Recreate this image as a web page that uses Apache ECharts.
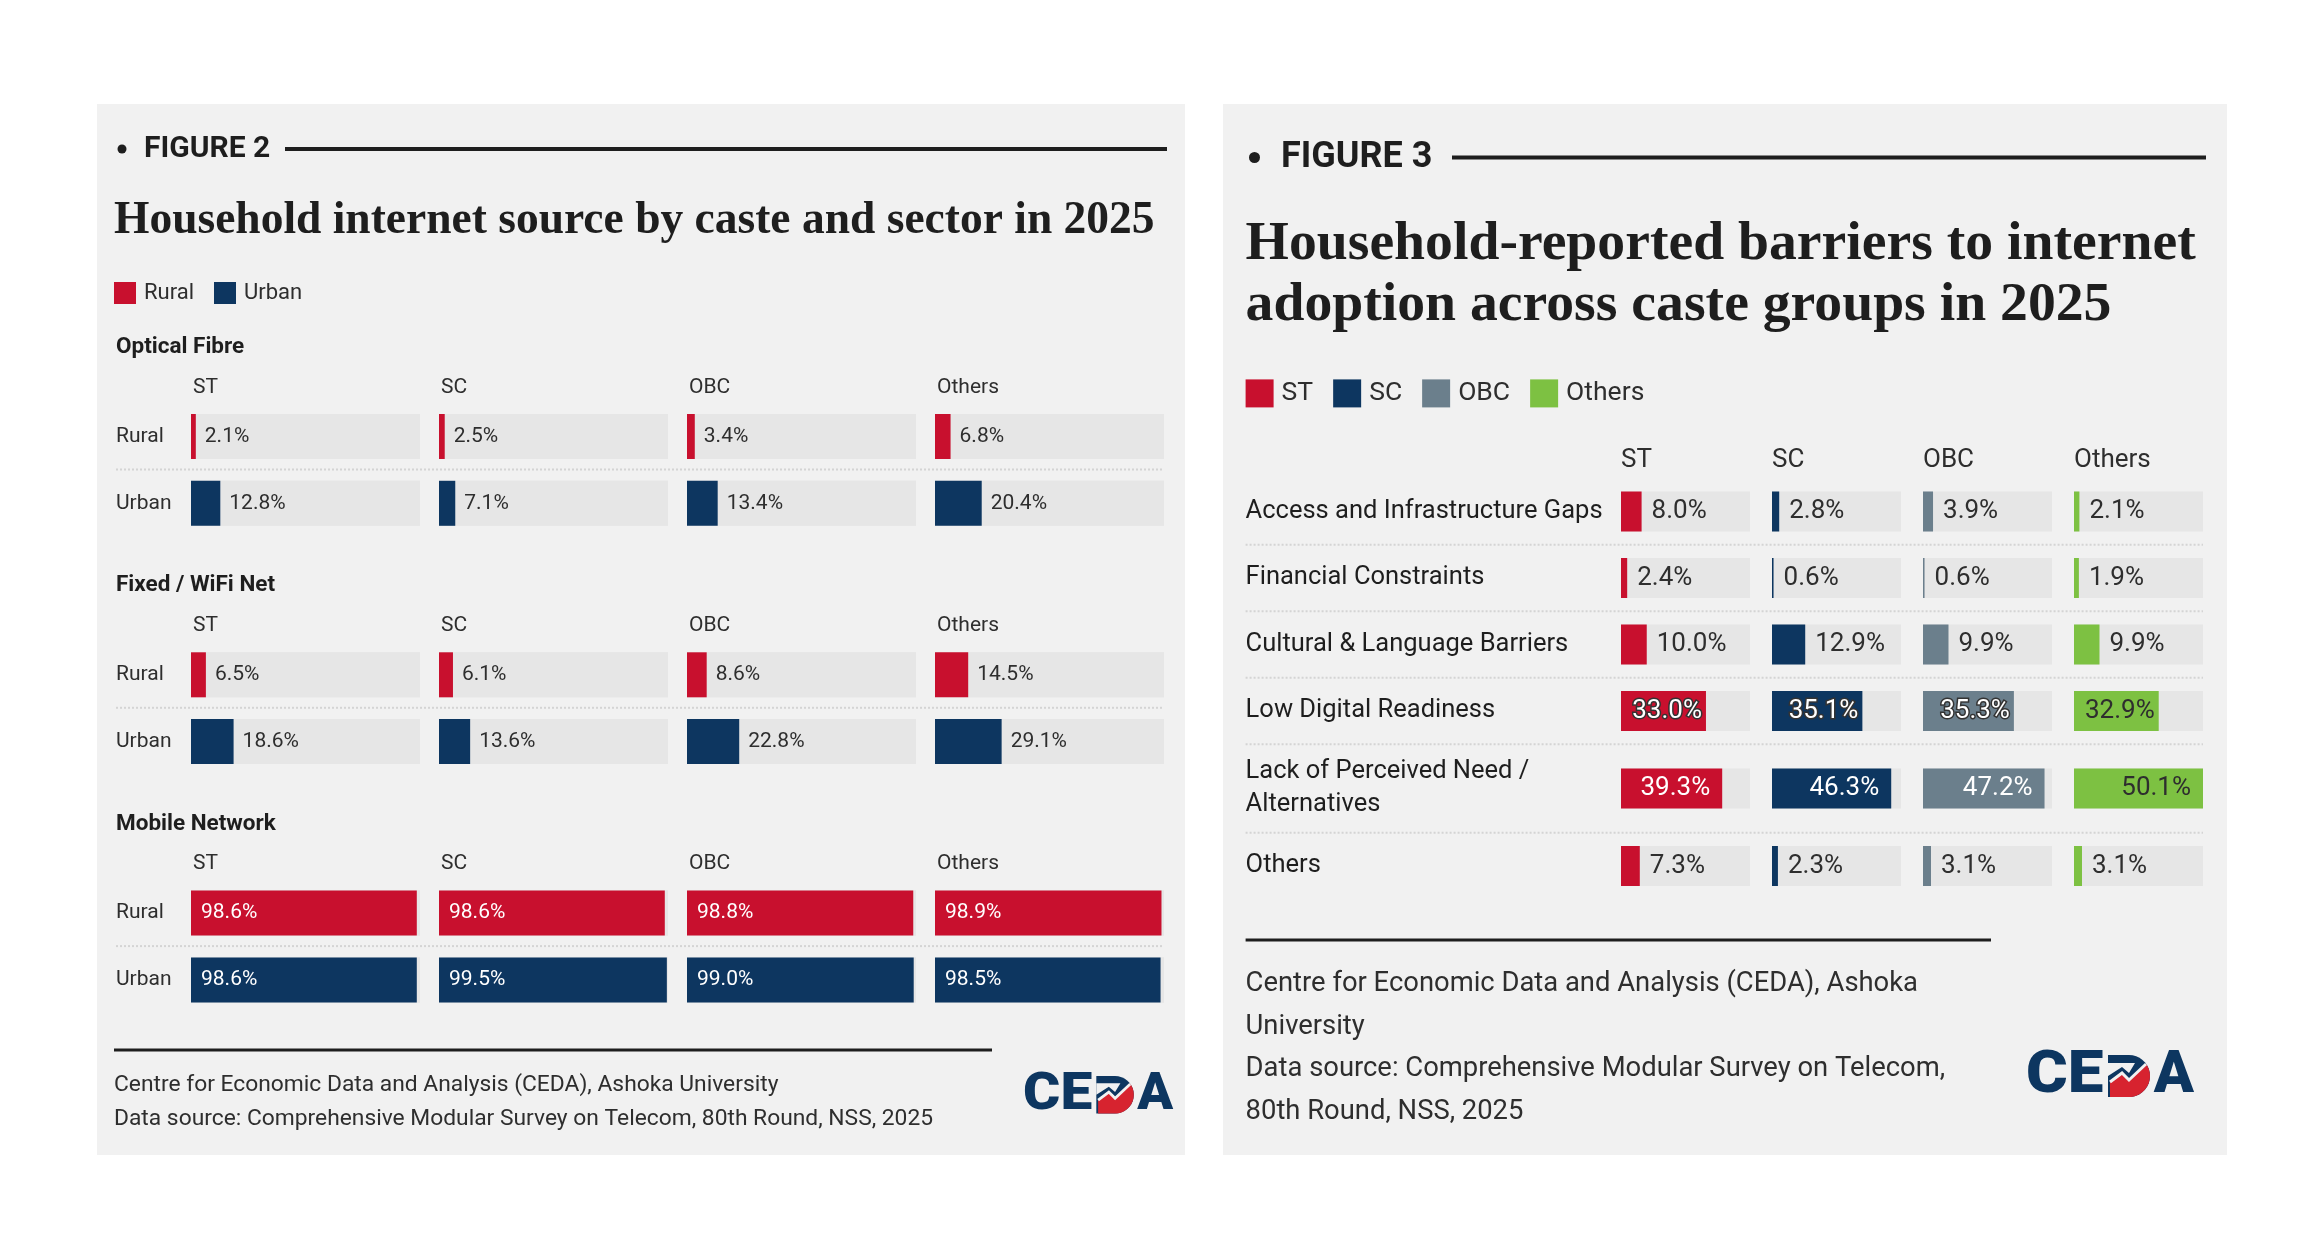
<!DOCTYPE html>
<html><head><meta charset="utf-8">
<script src="https://cdn.jsdelivr.net/npm/echarts@6/dist/echarts.min.js"></script>
<style>html,body{margin:0;padding:0;background:#fff;}#c{width:2316px;height:1254px;}</style>
</head><body><div id="c"></div>
<script>
// ---------------- DATA ----------------
const castes = ['ST', 'SC', 'OBC', 'Others'];
const sectors = ['Rural', 'Urban'];
const sourceSections = ['Optical Fibre', 'Fixed / WiFi Net', 'Mobile Network'];
const opticalRural = [2.1, 2.5, 3.4, 6.8];
const opticalUrban = [12.8, 7.1, 13.4, 20.4];
const fixedRural = [6.5, 6.1, 8.6, 14.5];
const fixedUrban = [18.6, 13.6, 22.8, 29.1];
const mobileRural = [98.6, 98.6, 98.8, 98.9];
const mobileUrban = [98.6, 99.5, 99.0, 98.5];

const barriers = ['Access and Infrastructure Gaps', 'Financial Constraints', 'Cultural & Language Barriers',
  'Low Digital Readiness', 'Lack of Perceived Need / Alternatives', 'Others'];
const barrierST = [8.0, 2.4, 10.0, 33.0, 39.3, 7.3];
const barrierSC = [2.8, 0.6, 12.9, 35.1, 46.3, 2.3];
const barrierOBC = [3.9, 0.6, 9.9, 35.3, 47.2, 3.1];
const barrierOthers = [2.1, 1.9, 9.9, 32.9, 50.1, 3.1];

const fig2Label = 'FIGURE 2';
const fig2Title = 'Household internet source by caste and sector in 2025';
const fig2Footer = ['Centre for Economic Data and Analysis (CEDA), Ashoka University',
  'Data source: Comprehensive Modular Survey on Telecom, 80th Round, NSS, 2025'];
const fig3Label = 'FIGURE 3';
const fig3Title = ['Household-reported barriers to internet', 'adoption across caste groups in 2025'];
const fig3Footer = ['Centre for Economic Data and Analysis (CEDA), Ashoka', 'University',
  'Data source: Comprehensive Modular Survey on Telecom,', '80th Round, NSS, 2025'];

// ---------------- STYLE ----------------
const SANS = 'Roboto, "Noto Sans", sans-serif';
const SERIF = '"Liberation Serif", serif';
const RED = '#c8102e', NAVY = '#0d3660', GREY = '#6b7f8c', GREEN = '#7dc142';
const TRACK = '#e6e6e6', PANEL = '#f1f1f1', INK = '#1e1e1e', TXT = '#2e2e2e';
const sectorColors = { Rural: RED, Urban: NAVY };
const casteColors = [RED, NAVY, GREY, GREEN];

const grids = [], xAxes = [], yAxes = [], series = [], graphics = [];
function txt(x, y, text, font, extra) {
  graphics.push({ type: 'text', x: x, y: y, silent: true,
    style: Object.assign({ text: text, font: font, fill: TXT, align: 'left', verticalAlign: 'middle',
      textAlign: 'left', textVerticalAlign: 'middle' }, extra || {}) });
}
function hline(x1, x2, y, w, color, dash) {
  graphics.push({ type: 'line', silent: true, shape: { x1: x1, y1: y, x2: x2, y2: y },
    style: { stroke: color, lineWidth: w, lineDash: dash || null } });
}
function logo(x, y, h) {
  const s = h / 42;
  const arc = [];
  for (let a = -90; a <= 90; a += 10) { const t = a * Math.PI / 180; arc.push([21 + 21 * Math.cos(t), 21 + 21 * Math.sin(t)]); }
  const dNavy = [[0, 0]].concat(arc).concat([[0, 42]]);
  const redArc = [];
  for (let a = -36; a <= 90; a += 8) { const t = a * Math.PI / 180; redArc.push([21 + 21 * Math.cos(t), 21 + 21 * Math.sin(t)]); }
  const zig = [[2, 27], [14, 18], [21, 25], [38, 9]];
  const dRed = [[2, 27], [14, 18], [21, 25], [38, 9]].concat(redArc).concat([[2, 42]]);
  const counter = [[0, 8], [27, 8], [21, 18], [14, 12], [0, 21]];
  graphics.push({ type: 'group', x: x, y: y, scaleX: s, scaleY: s, silent: true, children: [
    { type: 'text', x: -1, y: 22, scaleX: 1.08, style: { text: 'CE', font: '900 59px ' + SANS, fill: NAVY,
      align: 'left', verticalAlign: 'middle', textAlign: 'left', textVerticalAlign: 'middle' } },
    { type: 'group', x: 81, y: 0, children: [
      { type: 'polygon', shape: { points: dNavy }, style: { fill: NAVY } },
      { type: 'polygon', shape: { points: counter }, style: { fill: PANEL } },
      { type: 'polygon', shape: { points: dRed }, style: { fill: '#d7232f' } },
      { type: 'polyline', shape: { points: zig }, style: { stroke: PANEL, lineWidth: 3, fill: null } }
    ] },
    { type: 'text', x: 167, y: 22, scaleX: 1.0, style: { text: 'A', font: '900 59px ' + SANS, fill: NAVY,
      align: 'right', verticalAlign: 'middle', textAlign: 'right', textVerticalAlign: 'middle' } }
  ] });
}

// ---------------- PANELS & HEADERS ----------------
graphics.push({ type: 'rect', silent: true, shape: { x: 97, y: 104, width: 1088, height: 1051 }, style: { fill: PANEL } });
graphics.push({ type: 'rect', silent: true, shape: { x: 1223, y: 104, width: 1004, height: 1051 }, style: { fill: PANEL } });

graphics.push({ type: 'circle', silent: true, shape: { cx: 122, cy: 149, r: 4.5 }, style: { fill: INK } });
txt(144, 149, fig2Label, 'bold 30px ' + SANS, { fill: INK });
hline(285, 1167, 149, 4, INK);
txt(114, 221, fig2Title, 'bold 45.5px ' + SERIF, { fill: INK });

graphics.push({ type: 'circle', silent: true, shape: { cx: 1254.5, cy: 157.5, r: 5.5 }, style: { fill: INK } });
txt(1281, 158, fig3Label, 'bold 36px ' + SANS, { fill: INK });
hline(1452, 2206, 157.5, 4, INK);
fig3Title.forEach((t, i) => txt(1245.6, 244.5 + i * 61, t, 'bold 55.7px ' + SERIF, { fill: INK }));

// ---------------- FIGURE 2 GRIDS ----------------
const sourceRural = [opticalRural, fixedRural, mobileRural];
const sourceUrban = [opticalUrban, fixedUrban, mobileUrban];
const L = { colX0: 191, colPitch: 248, colW: 229, secPitch: 238.3, bandH: 66.8, barH: 45, firstCenter: 436.5, labelX: 116 };
sourceSections.forEach((sec, s) => {
  const dy = s * L.secPitch;
  txt(L.labelX, 347.4 + dy, sec, 'bold 22.5px ' + SANS, { fill: INK });
  castes.forEach((caste, c) => {
    const gx = L.colX0 + c * L.colPitch;
    txt(gx + 2, 387.5 + dy, caste, '21px ' + SANS);
    const gi = grids.length;
    grids.push({ left: gx, top: L.firstCenter - L.bandH / 2 + dy, width: L.colW, height: L.bandH * 2 });
    xAxes.push({ type: 'value', gridIndex: gi, min: 0, max: 100, show: false });
    yAxes.push({ type: 'category', gridIndex: gi, data: sectors, inverse: true,
      axisLine: { show: false }, axisTick: { show: false }, splitLine: { show: false },
      axisLabel: { show: c === 0, align: 'left', margin: gx - L.labelX, fontSize: 21, fontFamily: SANS, color: TXT } });
    [sourceRural[s][c], sourceUrban[s][c]].forEach((v, k) => {
      const d = sectors.map((_, j) => j === k ? { value: v,
        label: v >= 50 ? { position: 'insideLeft', distance: 10, color: '#fff' } : { position: 'right', distance: 9, color: TXT } } : '-');
      series.push({ type: 'bar', name: sectors[k], xAxisIndex: gi, yAxisIndex: gi, data: d,
        barWidth: L.barH, barGap: '-100%', itemStyle: { color: sectorColors[sectors[k]] },
        showBackground: true, backgroundStyle: { color: TRACK },
        label: { show: true, fontSize: 21, fontFamily: SANS, formatter: p => p.value.toFixed(1) + '%' } });
    });
  });
  hline(L.labelX, 1164, 469.5 + dy, 2, '#d4d4d4', [2, 2]);
});
hline(114, 992, 1050, 3, INK);
fig2Footer.forEach((t, i) => txt(114, 1085 + i * 34.4, t, '22.8px ' + SANS));
logo(1024, 1076, 37.5);

// ---------------- FIGURE 3 GRIDS ----------------
const barrierVals = [barrierST, barrierSC, barrierOBC, barrierOthers];
const maxBarrier = Math.max.apply(null, barrierVals.reduce((a, b) => a.concat(b), []));
const R = { colX0: 1621, colPitch: 151, colW: 129, barH: 40, top0: 478.25, rowH: 66.5, rowH2: 88.5, labelX: 1245.6 };
castes.forEach((caste, c) => txt(R.colX0 + c * R.colPitch, 460, caste, '26px ' + SANS));
const insideCentreRow = 'Low Digital Readiness';
const insideEndRow = 'Lack of Perceived Need / Alternatives';
let rowTop = R.top0;
barriers.forEach((b, r) => {
  const two = b.indexOf(' / ') >= 0;
  const h = two ? R.rowH2 : R.rowH;
  const center = rowTop + h / 2;
  if (r > 0) hline(R.labelX, 2203, rowTop, 2, '#d4d4d4', [2, 2]);
  castes.forEach((caste, c) => {
    const gx = R.colX0 + c * R.colPitch;
    const gi = grids.length;
    grids.push({ left: gx, top: center - R.barH / 2, width: R.colW, height: R.barH });
    xAxes.push({ type: 'value', gridIndex: gi, min: 0, max: maxBarrier, show: false });
    yAxes.push({ type: 'category', gridIndex: gi, data: [b],
      axisLine: { show: false }, axisTick: { show: false }, splitLine: { show: false },
      axisLabel: { show: c === 0, align: 'left', margin: gx - R.labelX, fontSize: 25.5, lineHeight: 33,
        fontFamily: SANS, color: INK, formatter: v => v.replace(' / ', ' /\n') } });
    const v = barrierVals[c][r];
    const dark = casteColors[c] === GREEN;
    let lab = { position: 'right', distance: 10, color: TXT };
    if (b === insideCentreRow) lab = dark ? { position: 'insideRight', distance: 4, color: TXT }
      : { position: 'insideRight', distance: 4, color: '#fff', textBorderColor: '#333', textBorderWidth: 3 };
    if (b === insideEndRow) lab = { position: 'insideRight', distance: 12, color: dark ? TXT : '#fff' };
    series.push({ type: 'bar', name: caste, xAxisIndex: gi, yAxisIndex: gi, data: [{ value: v, label: lab }],
      barWidth: R.barH, itemStyle: { color: casteColors[c] }, showBackground: true, backgroundStyle: { color: TRACK },
      label: { show: true, fontSize: 26, fontFamily: SANS, formatter: p => p.value.toFixed(1) + '%' } });
  });
  rowTop += h;
});
hline(1245.6, 1991, 940, 3, INK);
fig3Footer.forEach((t, i) => txt(1245.6, 984 + i * 42.7, t, '27.4px ' + SANS));
logo(2027, 1055, 42);

// ---------------- CHART ----------------
const chart = echarts.init(document.getElementById('c'), null, { renderer: 'canvas' });
chart.setOption({
  backgroundColor: '#ffffff',
  animation: false,
  legend: [
    { data: sectors, left: 114, top: 282, padding: 0, itemWidth: 22, itemHeight: 22, itemGap: 20, icon: 'rect',
      selectedMode: false, textStyle: { fontSize: 22, fontFamily: SANS, color: TXT, padding: [0, 0, 0, 3] } },
    { data: castes, left: 1245.6, top: 379.4, padding: 0, itemWidth: 28, itemHeight: 28, itemGap: 20, icon: 'rect',
      selectedMode: false, textStyle: { fontSize: 26.5, fontFamily: SANS, color: TXT, padding: [0, 0, 0, 3] } }
  ],
  grid: grids, xAxis: xAxes, yAxis: yAxes, series: series,
  graphic: { elements: graphics }
});
</script></body></html>
